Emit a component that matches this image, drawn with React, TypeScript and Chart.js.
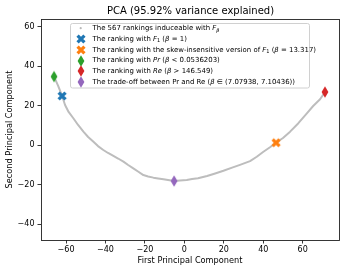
import React, { useEffect, useRef } from 'react';
import { Chart, registerables } from 'chart.js';

Chart.register(...registerables);

// ---- data ----
const curveX = [-66.1, -64.0, -62.0, -60.5, -58.7, -56.3, -53.9, -51.2, -48.8, -46.1, -43.8, -41.1, -38.7, -36.0, -33.6, -30.9, -28.5, -25.9, -23.5, -20.8, -18.4, -15.7, -13.3, -10.6, -8.3, -5.2, -2.2, 1.2, 3.9, 6.9, 11.5, 15.6, 19.8, 24.2, 28.2, 33.3, 36.7, 39.9, 43.4, 46.5, 50.0, 53.6, 57.8, 62.1, 65.3, 68.8, 71.3];
const curveY = [34.8, 30.1, 25.0, 20.4, 16.9, 13.7, 10.3, 6.9, 4.2, 1.8, -0.4, -2.4, -3.9, -5.4, -6.7, -8.3, -10.0, -11.7, -13.3, -15.1, -15.8, -16.4, -16.8, -17.2, -17.6, -18.1, -17.8, -17.6, -17.1, -16.7, -15.6, -14.3, -12.9, -11.3, -9.9, -8.0, -5.8, -3.4, -1.0, 1.3, 3.7, 6.9, 11.2, 16.2, 19.9, 23.3, 27.0];

const markerNames = ['f1', 'skew', 'pr', 're', 'tradeoff'];
const markerX = [-62.0, 46.5, -66.1, 71.3, -5.2];
const markerY = [25.0, 1.3, 34.8, 27.0, -18.1];
const markerColors = ['#1f77b4', '#ff7f0e', '#2ca02c', '#d62728', '#9467bd'];
const markerShapes = ['X', 'X', 'd', 'd', 'd'];

const xTicks = [-60, -40, -20, 0, 20, 40, 60];
const yTicks = [-40, -20, 0, 20, 40, 60];

const titleText = 'PCA (95.92% variance explained)';
const xTitle = 'First Principal Component';
const yTitle = 'Second Principal Component';

type Seg = { t: string; i?: boolean; sub?: boolean };
const legendRows: Seg[][] = [
  [{ t: 'The 567 rankings induceable with ' }, { t: 'F', i: true }, { t: 'β', i: true, sub: true }],
  [{ t: 'The ranking with ' }, { t: 'F', i: true }, { t: '1', sub: true }, { t: ' (' }, { t: 'β', i: true }, { t: ' = 1)' }],
  [{ t: 'The ranking with the skew-insensitive version of ' }, { t: 'F', i: true }, { t: '1', sub: true }, { t: ' (' }, { t: 'β', i: true }, { t: ' = 13.317)' }],
  [{ t: 'The ranking with ' }, { t: 'Pr', i: true }, { t: ' (' }, { t: 'β', i: true }, { t: ' < 0.0536203)' }],
  [{ t: 'The ranking with ' }, { t: 'Re', i: true }, { t: ' (' }, { t: 'β', i: true }, { t: ' > 146.549)' }],
  [{ t: 'The trade-off between Pr and Re (' }, { t: 'β', i: true }, { t: ' ∈ (7.07938, 7.10436))' }],
];

const FONT = '"DejaVu Sans", sans-serif';

function makeMarker(shape: string, color: string): HTMLCanvasElement {
  const c = document.createElement('canvas');
  if (shape === 'X') {
    c.width = 14; c.height = 14;
    const g = c.getContext('2d')!;
    g.translate(7, 7);
    g.strokeStyle = color;
    g.lineWidth = 3.2;
    g.lineCap = 'butt';
    g.beginPath();
    g.moveTo(-3.45, -3.45); g.lineTo(3.45, 3.45);
    g.moveTo(-3.45, 3.45); g.lineTo(3.45, -3.45);
    g.stroke();
  } else {
    c.width = 10; c.height = 14;
    const g = c.getContext('2d')!;
    g.translate(5, 7);
    g.fillStyle = color;
    g.beginPath();
    g.moveTo(0, -5.8); g.lineTo(3.4, 0); g.lineTo(0, 5.8); g.lineTo(-3.4, 0);
    g.closePath();
    g.fill();
  }
  return c;
}

function drawRich(ctx: CanvasRenderingContext2D, segs: Seg[], x: number, y: number, size: number) {
  let cx = x;
  for (const s of segs) {
    const fs = s.sub ? size * 0.72 : size;
    ctx.font = `${s.i ? 'italic ' : ''}${fs}px ${FONT}`;
    ctx.textBaseline = 'middle';
    ctx.textAlign = 'left';
    ctx.fillStyle = '#000';
    const dy = s.sub ? size * 0.3 : 0;
    ctx.fillText(s.t, cx, y + dy);
    cx += ctx.measureText(s.t).width;
  }
}

export default function App() {
  const ref = useRef<HTMLCanvasElement | null>(null);

  useEffect(() => {
    document.body.style.margin = '0';
    const canvas = ref.current;
    if (!canvas) return;
    const images = markerShapes.map((s, i) => makeMarker(s, markerColors[i]));

    const decor = {
      id: 'decor',
      afterDraw(chart: any) {
        const ctx: CanvasRenderingContext2D = chart.ctx;
        const a = chart.chartArea;
        ctx.save();
        // frame
        ctx.strokeStyle = '#222';
        ctx.lineWidth = 0.9;
        ctx.strokeRect(a.left + 0.5, a.top + 0.5, a.right - a.left, a.bottom - a.top);
        // title
        ctx.fillStyle = '#000';
        ctx.font = `10px ${FONT}`;
        ctx.textAlign = 'center';
        ctx.textBaseline = 'middle';
        ctx.fillText(titleText, (a.left + a.right) / 2 + 0.5, 11);
        // legend box
        const bx = 70.5, by = 23.5, bw = 239, bh = 64.5, r = 2;
        ctx.beginPath();
        ctx.moveTo(bx + r, by);
        ctx.lineTo(bx + bw - r, by);
        ctx.quadraticCurveTo(bx + bw, by, bx + bw, by + r);
        ctx.lineTo(bx + bw, by + bh - r);
        ctx.quadraticCurveTo(bx + bw, by + bh, bx + bw - r, by + bh);
        ctx.lineTo(bx + r, by + bh);
        ctx.quadraticCurveTo(bx, by + bh, bx, by + bh - r);
        ctx.lineTo(bx, by + r);
        ctx.quadraticCurveTo(bx, by, bx + r, by);
        ctx.closePath();
        ctx.fillStyle = 'rgba(255,255,255,0.8)';
        ctx.fill();
        ctx.strokeStyle = '#d0d0d0';
        ctx.lineWidth = 1;
        ctx.stroke();
        // legend rows
        const mx = 80.7, tx = 92.5;
        legendRows.forEach((row, k) => {
          const y = 28.2 + k * 10.8;
          if (k === 0) {
            ctx.fillStyle = '#b8b8b8';
            ctx.beginPath();
            ctx.arc(mx, y, 1.1, 0, Math.PI * 2);
            ctx.fill();
          } else {
            const img = images[k - 1];
            ctx.drawImage(img, Math.round(mx - img.width / 2), Math.round(y - img.height / 2));
          }
          drawRich(ctx, row, tx, y, 6.95);
        });
        ctx.restore();
      },
    };

    const chart = new Chart(canvas, {
      type: 'scatter',
      data: {
        datasets: [
          ...markerNames.map((n, i) => ({
            label: n,
            data: [{ x: markerX[i], y: markerY[i] }],
            pointStyle: images[i] as any,
            pointRadius: 5,
            order: 0,
          })),
          {
            label: 'rankings',
            data: curveX.map((x, i) => ({ x, y: curveY[i] })),
            showLine: true,
            borderColor: '#bdbdbd',
            borderWidth: 2,
            borderJoinStyle: 'round',
            pointRadius: 0,
            order: 10,
          },
        ],
      },
      options: {
        animation: false,
        responsive: false,
        events: [],
        layout: { padding: { top: 19, right: 6, left: 0, bottom: 0 } },
        plugins: { legend: { display: false }, tooltip: { enabled: false }, title: { display: false } },
        scales: {
          x: {
            type: 'linear',
            min: -72.7,
            max: 78.4,
            afterBuildTicks: (s: any) => { s.ticks = xTicks.map((v) => ({ value: v })); },
            afterFit: (s: any) => { s.height = 32; },
            border: { display: false },
            grid: { drawOnChartArea: false, drawTicks: true, tickLength: 3.5, tickColor: '#222', tickWidth: 0.9 },
            ticks: {
              color: '#000',
              padding: 1.5,
              font: { family: FONT, size: 8 },
              callback: (v: any) => String(v).replace('-', '\u2212'),
            },
            title: { display: true, text: xTitle, color: '#000', font: { family: FONT, size: 8.2 }, padding: { top: 0, bottom: 6 } },
          },
          y: {
            type: 'linear',
            min: -48,
            max: 64,
            afterBuildTicks: (s: any) => { s.ticks = yTicks.map((v) => ({ value: v })); },
            afterFit: (s: any) => { s.width = 41; },
            border: { display: false },
            grid: { drawOnChartArea: false, drawTicks: true, tickLength: 3.5, tickColor: '#222', tickWidth: 0.9 },
            ticks: {
              color: '#000',
              padding: 3,
              font: { family: FONT, size: 8 },
              callback: (v: any) => String(v).replace('-', '\u2212'),
            },
            title: { display: true, text: yTitle, color: '#000', font: { family: FONT, size: 8.2 }, padding: { top: 5, bottom: 0 } },
          },
        },
      },
      plugins: [decor],
    } as any);
    return () => chart.destroy();
  }, []);

  return (
    <div style={{ width: 345, height: 272 }}>
      <canvas ref={ref} width={345} height={272} />
    </div>
  );
}
